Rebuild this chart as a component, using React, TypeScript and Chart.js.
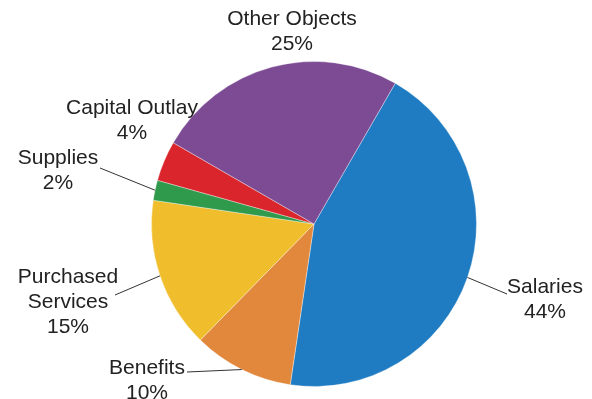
import React, { useEffect, useRef } from "react";
import { Chart, registerables } from "chart.js";

Chart.register(...registerables);

const categories = ["Salaries", "Benefits", "Purchased Services", "Supplies", "Capital Outlay", "Other Objects"];
const values = [44, 10, 15, 2, 4, 25];
const percentLabels = ["44%", "10%", "15%", "2%", "4%", "25%"];
const colors = ["#1f7cc2", "#e2883c", "#f0bd2c", "#2f9a4c", "#d9252b", "#7c4b94"];

// label layout: text lines, text center x, first-line baseline y, leader end point (or null)
const labelLayout = [
  { lines: ["Salaries", "44%"], x: 545, y: 293, leader: [507, 294] },
  { lines: ["Benefits", "10%"], x: 147, y: 374, leader: [187, 372] },
  { lines: ["Purchased", "Services", "15%"], x: 68, y: 283, leader: [115, 295] },
  { lines: ["Supplies", "2%"], x: 58, y: 164, leader: [100, 168] },
  { lines: ["Capital Outlay", "4%"], x: 132, y: 114, leader: null },
  { lines: ["Other Objects", "25%"], x: 292, y: 25, leader: null },
];

const labelPlugin = {
  id: "outerLabels",
  afterDatasetsDraw(chart: any) {
    const ctx = chart.ctx;
    const meta = chart.getDatasetMeta(0);
    ctx.save();
    ctx.font = "21px 'Liberation Sans', Arial, sans-serif";
    ctx.fillStyle = "#222";
    ctx.textAlign = "center";
    ctx.textBaseline = "alphabetic";
    meta.data.forEach((arc: any, i: number) => {
      const lay = labelLayout[i];
      if (!lay) return;
      if (lay.leader) {
        const mid = (arc.startAngle + arc.endAngle) / 2;
        const sx = arc.x + Math.cos(mid) * arc.outerRadius;
        const sy = arc.y + Math.sin(mid) * arc.outerRadius;
        ctx.beginPath();
        ctx.strokeStyle = "#333";
        ctx.lineWidth = 1;
        ctx.moveTo(sx, sy);
        ctx.lineTo(lay.leader[0], lay.leader[1]);
        ctx.stroke();
      }
      lay.lines.forEach((t, k) => {
        ctx.fillText(t, lay.x, lay.y + k * 25);
      });
    });
    ctx.restore();
  },
};

export default function App() {
  const ref = useRef<HTMLCanvasElement>(null);
  useEffect(() => {
    document.body.style.margin = "0";
    const chart = new Chart(ref.current!, {
      type: "pie",
      data: {
        labels: categories,
        datasets: [
          {
            data: values,
            backgroundColor: colors,
            borderColor: "rgba(255,255,255,0.35)",
            borderWidth: 1,
          },
        ],
      },
      options: {
        animation: false,
        responsive: false,
        rotation: 30,
        layout: { padding: { left: 151, right: 115, top: 61, bottom: 12 } },
        plugins: {
          legend: { display: false },
          tooltip: { enabled: false },
        },
      },
      plugins: [labelPlugin],
    });
    return () => chart.destroy();
  }, []);
  return (
    <div style={{ width: 592, height: 399, background: "#fff" }}>
      <canvas ref={ref} width={592} height={399} style={{ display: "block" }} />
    </div>
  );
}
